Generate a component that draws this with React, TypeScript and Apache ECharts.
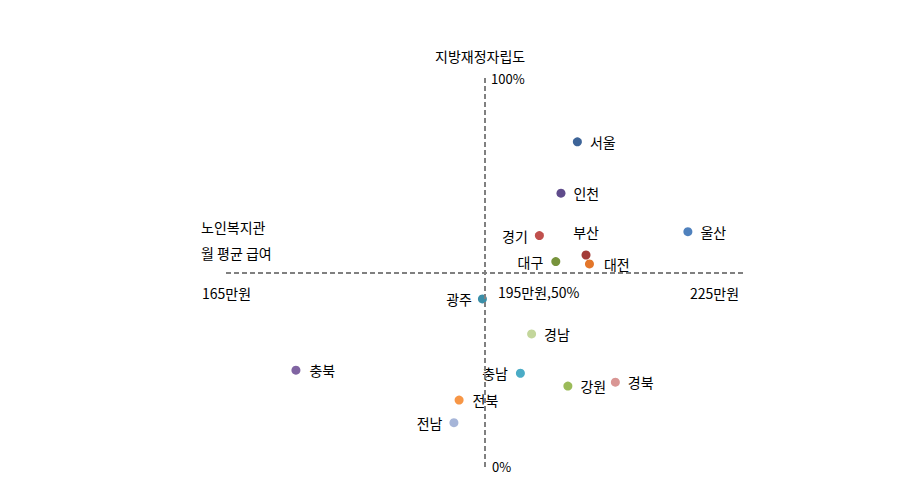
import React, { useEffect, useRef } from "react";
import * as echarts from "echarts";

const regions = ["서울", "인천", "경기", "울산", "부산", "대전", "대구", "광주", "경남", "충남", "강원", "경북", "전북", "전남", "충북"];
const salary = [205.7, 203.8, 201.3, 218.5, 206.7, 207.1, 203.2, 194.7, 200.4, 199.1, 204.6, 210.1, 192.0, 191.4, 173.1];
const fiscal = [83.6, 70.4, 59.5, 60.5, 54.5, 52.2, 52.8, 43.2, 34.2, 24.1, 20.8, 21.8, 17.2, 11.4, 24.9];
const colors = ["#3D6498", "#5F4B8B", "#C0504D", "#4F81BD", "#A33B38", "#E3762A", "#77933C", "#3B8FA8", "#C3D69B", "#4BACC6", "#9BBB59", "#D99694", "#F79646", "#A6B5D8", "#8064A2"];
const labelSides = ["right", "right", "left", "right", "top", "right", "left", "left", "right", "left", "right", "right", "right", "left", "right"];
const labelDistances = [8, 8, 7, 8, 12, 10, 8, 6, 8, 8, 8, 8, 9, 7, 9];

const xMin = 165;
const xMid = 195;
const xMax = 225;
const yMid = 50;
const xTicks = ["165만원", "195만원,50%", "225만원"];
const yTicks = ["100%", "0%"];
const yTitle = "지방재정자립도";
const xTitle = ["노인복지관", "월 평균 급여"];

const FONT = "'Noto Sans CJK KR', 'Noto Sans', sans-serif";

export default function App() {
  const ref = useRef<HTMLDivElement>(null);
  useEffect(() => {
    document.body.style.margin = "0";
    const chart = echarts.init(ref.current!, undefined, { renderer: "svg" });
    const textStyle = (extra: any) => ({ fontSize: 14, fontFamily: FONT, fill: "#000", ...extra });
    chart.setOption({
      animation: false,
      backgroundColor: "#fff",
      grid: { left: 226, right: 157, top: 78, bottom: 33 },
      xAxis: { type: "value", min: xMin, max: xMax, show: false },
      yAxis: { type: "value", min: 0, max: 100, show: false },
      series: [
        {
          type: "scatter",
          symbol: "circle",
          symbolSize: 9,
          data: regions.map((r, i) => ({
            name: r,
            value: [salary[i], fiscal[i]],
            itemStyle: { color: colors[i], opacity: 1 },
            label: {
              show: true,
              position: labelSides[i],
              distance: labelDistances[i],
              formatter: r,
              color: "#000",
              fontSize: 14,
              fontFamily: FONT,
            },
          })),
          markLine: {
            silent: true,
            symbol: ["none", "none"],
            label: { show: false },
            lineStyle: { color: "#808080", width: 2, type: [5, 3] },
            data: [{ xAxis: xMid }, { yAxis: yMid }],
          },
          z: 3,
        },
      ],
      graphic: [
        { type: "text", left: 435, top: 49, style: textStyle({ text: yTitle }) },
        { type: "text", left: 491, top: 72, style: textStyle({ text: yTicks[0], fontSize: 13 }) },
        { type: "text", left: 492, top: 460, style: textStyle({ text: yTicks[1], fontSize: 13 }) },
        { type: "text", left: 202, top: 286, style: textStyle({ text: xTicks[0] }) },
        { type: "text", left: 498, top: 285, style: textStyle({ text: xTicks[1] }) },
        { type: "text", left: 690, top: 286, style: textStyle({ text: xTicks[2] }) },
        { type: "text", left: 201, top: 220, style: textStyle({ text: xTitle[0] }) },
        { type: "text", left: 201, top: 246, style: textStyle({ text: xTitle[1] }) },
      ],
    });
    return () => chart.dispose();
  }, []);
  return <div ref={ref} style={{ width: 901, height: 500 }} />;
}
